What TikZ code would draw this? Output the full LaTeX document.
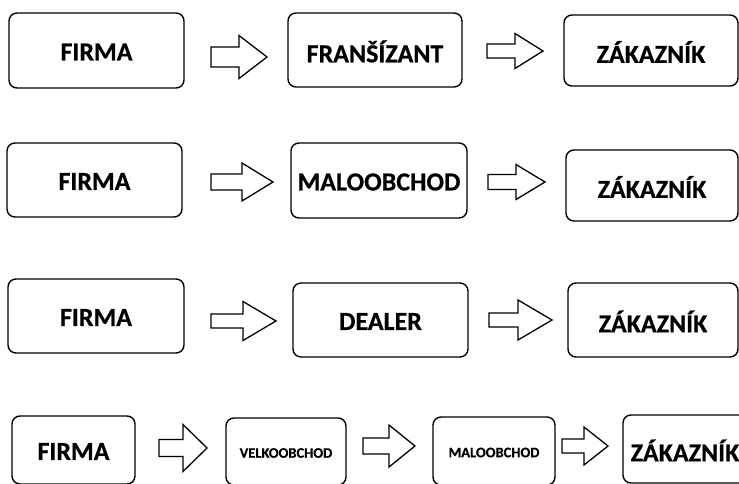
\documentclass[tikz,border=0pt]{standalone}
\usepackage{fontspec}
\setmainfont{Carlito}[BoldFeatures={FakeBold=0.6}]
\usetikzlibrary{fit}
\tikzset{
  boxst/.style={draw, line width=1.4pt, rounded corners=8pt, inner sep=0pt},
  bigtxt/.style={font=\fontsize{26}{30}\selectfont\bfseries},
  smalltxt/.style={font=\fontsize{14.5}{17}\selectfont\bfseries},
  arrst/.style={draw, line width=1.3pt, line join=miter, fill=white}
}
% name, x1, y1, x2, y2, style, text
\newcommand\mybox[7]{%
  \node[boxst, fit={(#2,#3) (#4,#5)}] (#1) {};
  \node[#6] (#1t) at ([yshift=-1.5pt]#1.center) {#7};
}
% tail, shaft end, tip, yc, head half, shaft half
\newcommand\blockarr[6]{%
  \draw[arrst] (#1,{#4-#6}) -- (#2,{#4-#6}) -- (#2,{#4-#5}) -- (#3,#4)
     -- (#2,{#4+#5}) -- (#2,{#4+#6}) -- (#1,{#4+#6}) -- cycle;
}
\begin{document}
\begin{tikzpicture}[x=1pt,y=-1pt]
\useasboundingbox (0,0) rectangle (739,484);
\begin{scope}
\clip (0,0) rectangle (739,484);
% row 1
\mybox{a1}{9}{13}{184}{88}{bigtxt}{FIRMA}
\mybox{a2}{288}{13}{462}{87}{bigtxt}{FRANŠÍZANT}
\mybox{a3}{564}{15}{738}{86}{bigtxt}{ZÁKAZNÍK}
\blockarr{211}{239}{267}{57}{21.5}{10}
\blockarr{487}{515}{543}{51}{17.5}{7}
% row 2
\mybox{b1}{7}{143}{182}{217}{bigtxt}{FIRMA}
\mybox{b2}{291}{143}{467}{218}{bigtxt}{MALOOBCHOD}
\mybox{b3}{566}{150}{738}{221}{bigtxt}{ZÁKAZNÍK}
\blockarr{211}{242}{273}{182}{19}{8}
\blockarr{488}{516}{545}{182}{17.5}{7.5}
% row 3
\mybox{c1}{8}{279}{184}{353}{bigtxt}{FIRMA}
\mybox{c2}{293}{283}{468}{357}{bigtxt}{DEALER}
\mybox{c3}{568}{283}{738}{357}{bigtxt}{ZÁKAZNÍK}
\blockarr{211}{243}{276}{321}{19.5}{7}
\blockarr{489}{518}{552}{320}{20}{7}
% row 4
\mybox{d1}{12}{416}{135}{484}{bigtxt}{FIRMA}
\mybox{d2}{226}{418}{346}{485}{smalltxt}{VELKOOBCHOD}
\mybox{d3}{433}{417}{555}{485}{smalltxt}{MALOOBCHOD}
\mybox{d4}{623}{415}{747}{483}{bigtxt}{ZÁKAZNÍK}
\blockarr{159}{183}{207}{448}{23.5}{8.5}
\blockarr{363}{389}{415}{446}{21}{8}
\blockarr{562}{584}{608}{446}{19}{7}
\end{scope}
\end{tikzpicture}
\end{document}
